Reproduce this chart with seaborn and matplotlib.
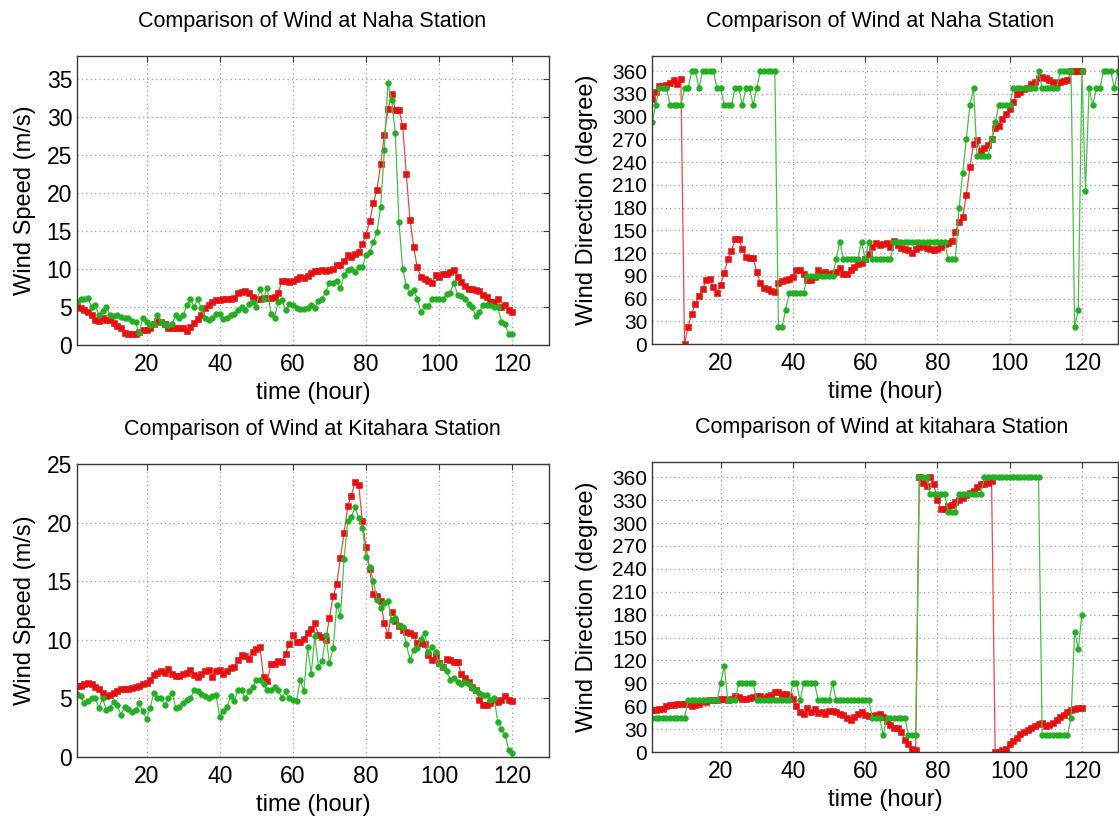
import matplotlib
matplotlib.use("Agg")
import matplotlib.pyplot as plt
from matplotlib import font_manager
import seaborn as sns

# ---------------------------------------------------------------- data
hours = list(range(1, 121))
hours_ext = list(range(1, 131))

# Naha station, wind speed (m/s)
naha_speed_red = [
    5.1, 4.9, 4.6, 4.3, 3.9, 3.3, 3.1, 3.5, 3.3, 3.3,
    2.9, 2.5, 2.2, 1.6, 1.4, 1.4, 1.4, 1.7, 2.0, 2.0,
    2.3, 2.8, 3.2, 3.0, 2.7, 2.3, 2.2, 2.2, 2.2, 2.2,
    1.9, 2.4, 2.9, 3.4, 4.0, 4.8, 5.3, 5.7, 5.9, 5.9,
    6.0, 6.0, 6.1, 6.2, 6.9, 7.0, 7.1, 6.9, 6.3, 6.0,
    6.0, 6.2, 6.2, 6.2, 6.3, 6.9, 8.4, 8.4, 8.3, 8.4,
    8.7, 8.9, 8.8, 9.1, 9.5, 9.7, 9.7, 9.8, 9.7, 9.8,
    10.0, 10.5, 10.5, 11.1, 11.8, 11.6, 12.0, 12.2, 13.3, 14.5,
    16.3, 18.7, 20.4, 23.8, 27.6, 31.0, 33.0, 30.9, 30.9, 28.8,
    22.5, 16.5, 12.9, 10.2, 9.0, 8.7, 8.4, 8.2, 9.2, 9.0,
    9.3, 9.4, 9.6, 9.8, 9.0, 8.3, 7.7, 7.4, 7.3, 7.2,
    7.1, 6.6, 6.3, 5.7, 5.6, 6.0, 5.0, 5.2, 4.6, 4.3,
]
naha_speed_green = [
    5.7, 6.0, 6.1, 6.2, 5.0, 5.2, 3.9, 4.5, 5.0, 4.0,
    3.8, 4.0, 3.7, 3.6, 3.6, 3.1, 3.0, 1.6, 3.6, 3.0,
    2.6, 2.8, 3.9, 3.0, 2.6, 2.6, 2.8, 3.9, 3.6, 3.9,
    5.2, 6.1, 5.0, 6.0, 4.8, 3.6, 3.3, 3.6, 4.1, 4.1,
    3.4, 3.6, 3.9, 4.1, 4.6, 5.0, 4.6, 5.4, 5.6, 5.0,
    7.4, 6.1, 7.5, 4.1, 3.6, 5.7, 5.9, 4.6, 5.4, 5.2,
    4.8, 4.7, 4.7, 4.8, 5.2, 4.8, 5.8, 6.1, 7.0, 8.2,
    8.2, 8.4, 7.5, 9.2, 9.8, 10.0, 9.6, 10.3, 10.3, 11.8,
    12.2, 13.5, 14.9, 18.2, 25.7, 34.5, 32.2, 27.9, 16.2, 10.0,
    7.8, 6.9, 7.2, 6.1, 4.3, 5.1, 5.1, 6.1, 6.0, 6.1,
    6.0, 6.7, 6.9, 8.2, 6.6, 6.5, 6.1, 5.4, 5.0, 3.8,
    4.3, 5.3, 5.3, 5.2, 5.0, 5.0, 3.0, 2.7, 1.4, 1.5,
]

# Naha station, wind direction (degree)
naha_dir_red = [
    323, 332, 340, 340, 342, 345, 348, 343, 350, 0,
    23, 40, 53, 63, 72, 84, 86, 75, 67, 78,
    94, 112, 123, 138, 139, 126, 115, 114, 114, 95,
    80, 74, 72, 70, 68, 80, 83, 85, 86, 89,
    98, 98, 93, 84, 84, 89, 98, 93, 95, 93,
    94, 95, 100, 93, 92, 98, 102, 106, 107, 112,
    119, 128, 133, 131, 132, 133, 128, 136, 130, 127,
    125, 124, 120, 126, 128, 129, 127, 126, 124, 125,
    128, 132, 133, 136, 148, 161, 167, 196, 233, 264,
    269, 255, 259, 262, 271, 285, 288, 297, 304, 310,
    319, 330, 332, 336, 338, 343, 346, 351, 352, 351,
    348, 346, 344, 346, 347, 348, 360, 360, 360, 360,
]
naha_dir_green = [
    292.5, 315, 337.5, 337.5, 337.5, 315, 315, 315, 315, 337.5,
    337.5, 360, 360, 337.5, 360, 360, 360, 360, 337.5, 337.5,
    315, 315, 315, 337.5, 337.5, 315, 337.5, 337.5, 315, 337.5,
    360, 360, 360, 360, 360, 22.5, 22.5, 45, 67.5, 67.5,
    67.5, 67.5, 67.5, 90, 90, 90, 90, 90, 90, 90,
    90, 112.5, 135, 112.5, 112.5, 112.5, 112.5, 112.5, 135, 112.5,
    135, 112.5, 112.5, 112.5, 112.5, 112.5, 112.5, 135, 135, 135,
    135, 135, 135, 135, 135, 135, 135, 135, 135, 135,
    135, 135, 112.5, 112.5, 112.5, 180, 225, 270, 315, 337.5,
    247.5, 247.5, 247.5, 247.5, 270, 292.5, 315, 315, 315, 315,
    337.5, 337.5, 337.5, 337.5, 337.5, 337.5, 337.5, 360, 337.5, 337.5,
    337.5, 337.5, 337.5, 360, 360, 360, 360, 22.5, 45, 360,
    202.5, 337.5, 315, 337.5, 337.5, 360, 360, 360, 337.5, 360,
]

# Kitahara station, wind speed (m/s)
kita_speed_red = [
    6.1, 6.1, 6.2, 6.3, 6.2, 6.0, 5.8, 5.5, 5.2, 5.3,
    5.5, 5.6, 5.8, 5.8, 5.8, 5.9, 6.0, 6.1, 6.2, 6.3,
    6.6, 7.0, 7.2, 7.3, 7.2, 7.5, 7.1, 6.9, 6.9, 7.1,
    7.2, 7.4, 7.0, 6.8, 7.1, 7.3, 7.4, 6.8, 7.3, 7.4,
    7.1, 7.3, 7.6, 7.7, 8.3, 8.7, 8.6, 8.4, 9.0, 9.2,
    9.4, 6.8, 6.5, 7.9, 7.9, 8.2, 8.1, 8.8, 9.6, 10.4,
    9.8, 9.8, 10.1, 10.6, 10.9, 11.4, 10.4, 10.2, 10.0, 11.9,
    13.7, 14.8, 17.0, 19.1, 21.4, 22.3, 23.5, 23.2, 20.1, 17.9,
    16.0, 13.9, 13.7, 13.3, 11.4, 10.4, 12.4, 11.6, 11.2, 10.8,
    10.7, 10.6, 10.4, 9.7, 9.7, 9.6, 8.7, 8.3, 8.6, 8.0,
    7.7, 8.4, 8.3, 8.1, 8.1, 7.1, 6.7, 6.4, 6.0, 5.7,
    4.9, 4.4, 4.4, 4.6, 4.9, 4.7, 4.9, 5.2, 4.9, 4.8,
]
kita_speed_green = [
    5.4, 5.2, 4.6, 4.8, 5.0, 5.0, 4.2, 5.0, 4.0, 4.2,
    4.7, 4.4, 3.6, 4.3, 4.1, 3.8, 4.0, 4.6, 3.9, 3.2,
    4.2, 5.5, 5.0, 5.0, 4.4, 5.0, 5.5, 4.2, 4.3, 4.6,
    4.9, 5.0, 5.7, 5.6, 5.4, 5.2, 5.0, 5.2, 5.3, 3.4,
    3.9, 4.3, 5.2, 4.8, 5.7, 5.7, 5.0, 5.6, 6.0, 6.6,
    6.6, 6.2, 5.7, 5.7, 6.0, 5.7, 5.0, 5.6, 5.0, 4.9,
    4.8, 6.6, 5.6, 9.4, 7.1, 10.3, 7.7, 8.2, 10.4, 8.0,
    9.3, 13.0, 12.0, 16.9, 20.1, 20.5, 21.3, 20.4, 19.5, 17.1,
    16.2, 15.0, 13.4, 12.7, 13.1, 13.3, 11.7, 11.9, 11.3, 11.1,
    9.6, 8.3, 9.1, 9.3, 10.1, 10.6, 9.0, 9.4, 9.0, 7.9,
    7.7, 7.3, 6.6, 6.7, 6.4, 6.2, 6.4, 6.2, 5.9, 5.7,
    5.5, 5.3, 5.3, 4.9, 5.0, 3.0, 2.4, 1.9, 0.6, 0.3,
]

# Kitahara station, wind direction (degree)
kita_dir_red = [
    55, 55, 56, 57, 60, 62, 62, 63, 63, 63,
    63, 60, 61, 63, 67, 66, 68, 68, 68, 70,
    70, 68, 70, 74, 72, 70, 69, 71, 72, 73,
    73, 71, 74, 75, 78, 79, 76, 76, 74, 70,
    60, 52, 50, 58, 52, 56, 51, 53, 50, 54,
    54, 52, 50, 49, 44, 42, 46, 50, 52, 48,
    47, 47, 49, 50, 46, 41, 35, 32, 32, 26,
    16, 10, 4, 2, 360, 353, 349, 360, 351, 330,
    319, 319, 322, 324, 327, 330, 333, 337, 339, 342,
    347, 351, 351, 353, 355, 0, 0, 2, 4, 10,
    14, 19, 23, 26, 29, 32, 34, 37, 38, 34,
    36, 38, 42, 46, 48, 52, 55, 57, 58, 58,
]
kita_dir_green = [
    45, 45, 45, 45, 45, 45, 45, 45, 45, 45,
    67.5, 67.5, 67.5, 67.5, 67.5, 67.5, 67.5, 67.5, 67.5, 90,
    112.5, 67.5, 67.5, 67.5, 90, 90, 90, 90, 90, 67.5,
    67.5, 67.5, 67.5, 67.5, 67.5, 67.5, 67.5, 67.5, 67.5, 90,
    90, 67.5, 90, 90, 90, 90, 67.5, 67.5, 67.5, 67.5,
    90, 67.5, 67.5, 67.5, 67.5, 67.5, 67.5, 67.5, 67.5, 67.5,
    67.5, 45, 45, 45, 22.5, 45, 45, 45, 45, 45,
    45, 22.5, 22.5, 22.5, 360, 360, 360, 337.5, 337.5, 337.5,
    337.5, 337.5, 315, 315, 315, 337.5, 337.5, 337.5, 337.5, 337.5,
    337.5, 337.5, 360, 360, 360, 360, 360, 360, 360, 360,
    360, 360, 360, 360, 360, 360, 360, 360, 22.5, 22.5,
    22.5, 22.5, 22.5, 22.5, 22.5, 22.5, 45, 157.5, 135, 180,
]

titles = [
    "Comparison of Wind at Naha Station",
    "Comparison of Wind at Naha Station",
    "Comparison of Wind at Kitahara Station",
    "Comparison of Wind at kitahara Station",
]
speed_label = "Wind Speed (m/s)"
dir_label = "Wind Direction (degree)"
time_label = "time (hour)"
x_ticks = [20, 40, 60, 80, 100, 120]
dir_ticks = [0, 30, 60, 90, 120, 150, 180, 210, 240, 270, 300, 330, 360]
naha_speed_ticks = [0, 5, 10, 15, 20, 25, 30, 35]
kita_speed_ticks = [0, 5, 10, 15, 20, 25]

# ---------------------------------------------------------------- style
sns.set_style("white")


def pick_font(*names):
    available = {f.name for f in font_manager.fontManager.ttflist}
    for name in names:
        if name in available:
            return name
    return "DejaVu Sans"


REGULAR = pick_font("Liberation Sans", "DejaVu Sans")
plt.rcParams["font.family"] = [REGULAR, "DejaVu Sans"]
plt.rcParams["text.color"] = "black"
plt.rcParams["axes.labelcolor"] = "black"

RED_MK = "#e61010"
RED_LN = "#e84848"
GRN_MK = "#22b022"
GRN_LN = "#48c048"

W, H = 1119, 816
fig = plt.figure(figsize=(W / 100, H / 100), dpi=100)


def px_rect(left, top, right, bottom):
    return [left / W, 1 - bottom / H, (right - left) / W, (bottom - top) / H]


def style_axes(ax, yticks, ylim, speed_axis):
    ax.set_xlim(1, 130)
    ax.set_ylim(*ylim)
    ax.set_xticks(x_ticks)
    ax.set_yticks(yticks)
    ax.grid(True, linestyle=(0, (1, 2.5)), color="#a0a0a0", linewidth=0.9)
    for sp in ax.spines.values():
        sp.set_color("#3a3a3a")
        sp.set_linewidth(1.0)
        sp.set_visible(True)
    ax.tick_params(axis="both", direction="in", length=4, width=0.8,
                   colors="#3a3a3a", labelcolor="black",
                   top=True, right=True)
    ax.tick_params(axis="x", pad=6)
    for lab in ax.get_xticklabels():
        lab.set_fontsize(16.5)
    for lab in ax.get_yticklabels():
        lab.set_fontsize(16.5 if speed_axis else 15)
    ax.set_xlabel(time_label, fontsize=17, labelpad=4, color="black")
    ax.set_ylabel("")


def draw_pair(ax, x_red, y_red, x_grn, y_grn):
    sns.lineplot(x=x_red, y=y_red, ax=ax, color=RED_LN, linewidth=0.9,
                 marker="s", markersize=5.0, markerfacecolor=RED_MK,
                 markeredgecolor=RED_MK, markeredgewidth=0.4,
                 estimator=None, sort=False, legend=False)
    sns.lineplot(x=x_grn, y=y_grn, ax=ax, color=GRN_LN, linewidth=0.9,
                 marker="o", markersize=4.2, markerfacecolor=GRN_MK,
                 markeredgecolor=GRN_MK, markeredgewidth=0.3,
                 estimator=None, sort=False, legend=False)


panels = [
    # rect, red x/y, green x/y, yticks, ylim, speed axis, ylabel, label x
    (px_rect(77, 56, 549, 345), hours, naha_speed_red, hours, naha_speed_green,
     naha_speed_ticks, (0, 38), True, speed_label, 25),
    (px_rect(652, 56, 1118, 344), hours, naha_dir_red, hours_ext, naha_dir_green,
     dir_ticks, (0, 380), False, dir_label, 587),
    (px_rect(77, 464, 549, 757), hours, kita_speed_red, hours, kita_speed_green,
     kita_speed_ticks, (0, 25), True, speed_label, 25),
    (px_rect(652, 462, 1118, 752), hours, kita_dir_red, hours, kita_dir_green,
     dir_ticks, (0, 380), False, dir_label, 587),
]
title_pos = [(312, 21), (880, 21), (312, 430), (882, 427)]

for (rect, xr, yr, xg, yg, yt, yl, speed_axis, ylab, ylab_x), title, tp in zip(
        panels, titles, title_pos):
    ax = fig.add_axes(rect)
    draw_pair(ax, xr, yr, xg, yg)
    style_axes(ax, yt, yl, speed_axis)
    cy = (1 - (rect[1] + rect[3] / 2)) * H
    fig.text(ylab_x / W, 1 - cy / H, ylab, rotation=90, ha="center",
             va="center", fontsize=17, color="black")
    fig.text(tp[0] / W, 1 - tp[1] / H, title, ha="center", va="center",
             fontsize=15.5, color="black")

fig.savefig("out.png", dpi=100, facecolor="white")
